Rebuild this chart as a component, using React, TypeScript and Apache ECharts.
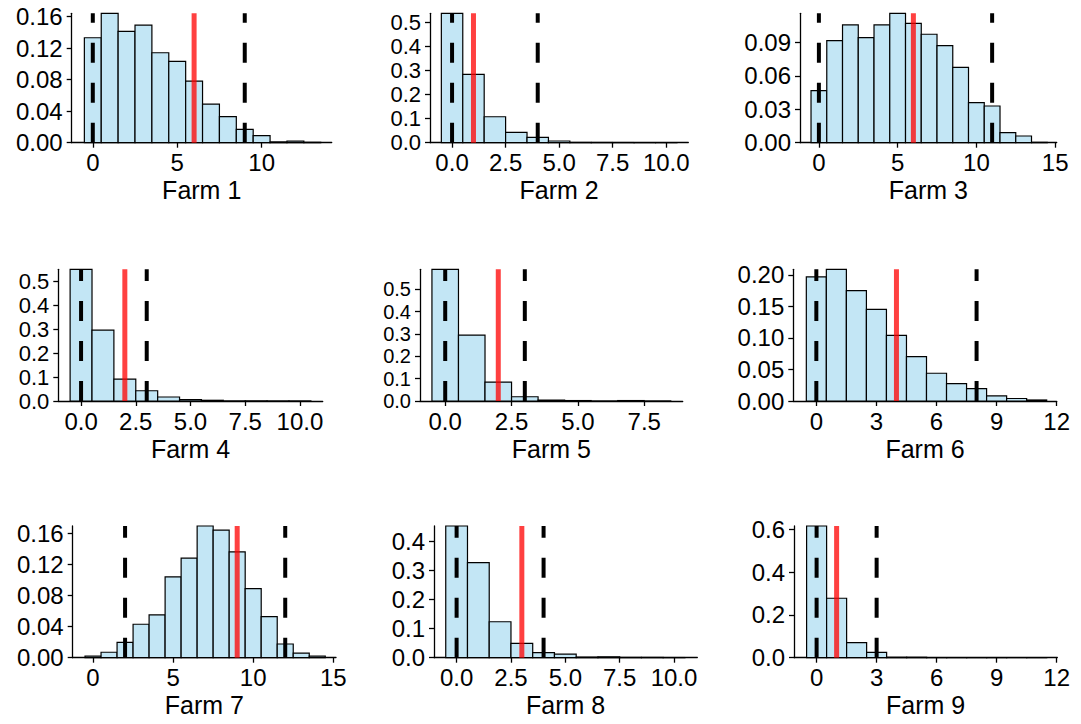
import React, { useEffect, useRef } from "react";
import * as echarts from "echarts";

// ---- Data (proportions per integer bin, starting at 0) ----
const farmNames = ["Farm 1", "Farm 2", "Farm 3", "Farm 4", "Farm 5", "Farm 6", "Farm 7", "Farm 8", "Farm 9"];

const farm1 = [0.133, 0.164, 0.141, 0.149, 0.114, 0.103, 0.078, 0.049, 0.033, 0.017, 0.009, 0.001, 0.002, 0.0005];
const farm2 = [0.539, 0.285, 0.108, 0.043, 0.0225, 0.007, 0.001, 0.0008, 0.0006, 0.0002, 0.0002];
const farm3 = [0.0466, 0.0915, 0.1056, 0.0942, 0.1056, 0.116, 0.107, 0.0972, 0.087, 0.0676, 0.0359, 0.0329, 0.009, 0.006, 0.0003];
const farm4 = [0.552, 0.297, 0.092, 0.043, 0.0168, 0.0056, 0.003, 0.0005, 0.0005, 0.0004, 0.0004];
const farm5 = [0.59, 0.2955, 0.085, 0.019, 0.004, 0.002, 0.0003, 0.002, 0.0003];
const farm6 = [0.197, 0.209, 0.175, 0.1455, 0.104, 0.0703, 0.044, 0.0275, 0.0196, 0.008, 0.004, 0.0016];
const farm7 = [0.002, 0.007, 0.0198, 0.043, 0.055, 0.104, 0.128, 0.1694, 0.164, 0.136, 0.0888, 0.0528, 0.0176, 0.006, 0.002];
const farm8 = [0.454, 0.3276, 0.124, 0.0496, 0.0172, 0.0126, 0.002, 0.003, 0.001, 0.001, 0.0005];
const farm9 = [0.615, 0.2776, 0.07, 0.025, 0.002, 0.002, 0.0003, 0.0003, 0.0003, 0.0003, 0.0003, 0.0003];

const farms = [farm1, farm2, farm3, farm4, farm5, farm6, farm7, farm8, farm9];

const redLines = [6, 1, 6, 2, 2, 4, 9, 3, 1];
const lowerDashed = [0, 0, 0, 0, 0, 0, 2, 0, 0];
const upperDashed = [9, 4, 11, 3, 3, 8, 12, 4, 3];

const xTicks = [
  [0, 5, 10],
  [0, 2.5, 5, 7.5, 10],
  [0, 5, 10, 15],
  [0, 2.5, 5, 7.5, 10],
  [0, 2.5, 5, 7.5],
  [0, 3, 6, 9, 12],
  [0, 5, 10, 15],
  [0, 2.5, 5, 7.5, 10],
  [0, 3, 6, 9, 12],
];
const xDecimals = [0, 1, 0, 1, 1, 0, 0, 1, 0];
const yTicks = [
  [0, 0.04, 0.08, 0.12, 0.16],
  [0, 0.1, 0.2, 0.3, 0.4, 0.5],
  [0, 0.03, 0.06, 0.09],
  [0, 0.1, 0.2, 0.3, 0.4, 0.5],
  [0, 0.1, 0.2, 0.3, 0.4, 0.5],
  [0, 0.05, 0.1, 0.15, 0.2],
  [0, 0.04, 0.08, 0.12, 0.16],
  [0, 0.1, 0.2, 0.3, 0.4],
  [0, 0.2, 0.4, 0.6],
];
const yDecimals = [2, 1, 2, 1, 1, 2, 2, 1, 1];
const xRanges = [
  [-1.25, 14.15],
  [-1.03, 11.03],
  [-1.2, 15.1],
  [-1.04, 11.04],
  [-0.95, 8.95],
  [-1.15, 12.0],
  [-1.27, 15.17],
  [-1.04, 11.07],
  [-1.13, 12.03],
];

// ---- Layout (panel boxes: left, top, width, height) and label sizes ----
const panels = [
  [71.7, 13.3, 260, 129.4],
  [430, 13.3, 258.3, 129.4],
  [800, 13.3, 256.7, 129.4],
  [58.3, 269.3, 264.4, 131.7],
  [420, 269.3, 262.7, 131.7],
  [793.3, 269.3, 263.4, 131.7],
  [72.7, 526, 263.3, 131.7],
  [434, 526, 263.3, 131.7],
  [794, 526, 263.3, 131.7],
];
const yLabelSizes = [24, 22, 24, 22, 20, 24, 24, 24, 24];

const FONT = "'Liberation Sans', Arial, sans-serif";
const BAR_FILL = "#C3E6F5";
const AXIS_COLOR = "#000";

export default function App() {
  const ref = useRef<HTMLDivElement>(null);

  useEffect(() => {
    if (!ref.current) return;
    const chart = echarts.init(ref.current, undefined, { renderer: "svg" });

    const grids: any[] = [];
    const xAxes: any[] = [];
    const yAxes: any[] = [];
    const series: any[] = [];

    farms.forEach((farm, i) => {
      const [l, t, w, h] = panels[i];
      const yMax = Math.max(...farm);
      grids.push({ left: l, top: t, width: w, height: h, containLabel: false });
      const lineStyle = { color: AXIS_COLOR, width: 1.3 };
      xAxes.push({
        type: "value",
        gridIndex: i,
        min: xRanges[i][0],
        max: xRanges[i][1],
        axisLine: { show: true, onZero: false, lineStyle },
        axisTick: { show: true, customValues: xTicks[i], length: 5, lineStyle },
        axisLabel: {
          customValues: xTicks[i],
          formatter: (v: number) => v.toFixed(xDecimals[i]),
          fontSize: 24,
          color: "#000",
          fontFamily: FONT,
          margin: 8,
        },
        splitLine: { show: false },
        name: farmNames[i],
        nameLocation: "middle",
        nameGap: 35,
        nameTextStyle: { fontSize: 25, color: "#000", fontFamily: FONT, verticalAlign: "top" },
      });
      yAxes.push({
        type: "value",
        gridIndex: i,
        min: 0,
        max: yMax,
        axisLine: { show: true, onZero: false, lineStyle },
        axisTick: { show: true, customValues: yTicks[i], length: 5, lineStyle },
        axisLabel: {
          customValues: yTicks[i],
          formatter: (v: number) => v.toFixed(yDecimals[i]),
          fontSize: yLabelSizes[i],
          color: "#000",
          fontFamily: FONT,
          margin: 9,
          hideOverlap: false,
        },
        splitLine: { show: false },
      });
      series.push({
        type: "custom",
        xAxisIndex: i,
        yAxisIndex: i,
        data: farm.map((v, k) => [k, v]),
        renderItem: (_params: any, api: any) => {
          const x = api.value(0);
          const v = api.value(1);
          const p0 = api.coord([x - 0.5, v]);
          const p1 = api.coord([x + 0.5, 0]);
          return {
            type: "rect",
            shape: { x: p0[0], y: p0[1], width: p1[0] - p0[0], height: p1[1] - p0[1] },
            style: { fill: BAR_FILL, stroke: "#000", lineWidth: 1.2 },
          };
        },
        z: 2,
      });
      series.push({
        type: "line",
        xAxisIndex: i,
        yAxisIndex: i,
        data: [
          [redLines[i], 0],
          [redLines[i], yMax],
        ],
        symbol: "none",
        lineStyle: { color: "rgba(255,0,0,0.75)", width: 5 },
        z: 3,
      });
      [lowerDashed[i], upperDashed[i]].forEach((d) => {
        series.push({
          type: "line",
          xAxisIndex: i,
          yAxisIndex: i,
          data: [
            [d, 0],
            [d, yMax],
          ],
          symbol: "none",
          lineStyle: { color: "#000", width: 4, type: [20, 20] },
          z: 4,
        });
      });
    });

    chart.setOption({
      animation: false,
      backgroundColor: "#fff",
      grid: grids,
      xAxis: xAxes,
      yAxis: yAxes,
      series,
    });

    return () => chart.dispose();
  }, []);

  return (
    <div
      ref={ref}
      style={{ position: "absolute", left: 0, top: 0, width: 1081, height: 724 }}
    />
  );
}
